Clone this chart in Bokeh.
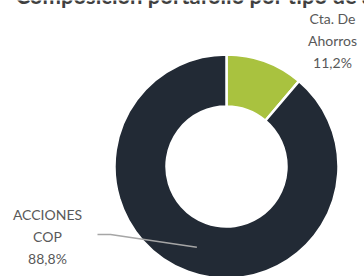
import math
from bokeh.plotting import figure
from bokeh.models import Range1d, ColumnDataSource
from bokeh.core.properties import value
from bokeh.embed import file_html
from bokeh.resources import INLINE

# ---- data ----
title = "Composición portafolio por tipo de activo"
categories = ["Cta. De Ahorros", "ACCIONES COP"]
label_lines = [["Cta. De", "Ahorros"], ["ACCIONES", "COP"]]
shares = [11.2, 88.8]
colors = ["#a9c23f", "#222a35"]

W, H = 364, 276

p = figure(width=W, height=H, output_backend="svg", toolbar_location=None,
           x_range=Range1d(0, W), y_range=Range1d(-H, 0),
           min_border=0)
p.axis.visible = False
p.grid.visible = False
p.outline_line_color = None
p.background_fill_color = "white"
p.border_fill_color = "white"

cx, cy = 226, -166
r_out, r_in = 112, 60

# wedges: first slice starts at 12 o'clock going clockwise
total = sum(shares)
starts, ends = [], []
a = math.pi / 2
for s in shares:
    sweep = 2 * math.pi * s / total
    ends.append(a)
    starts.append(a - sweep)
    a -= sweep

src = ColumnDataSource(dict(start=starts, end=ends, color=colors))
p.annular_wedge(x=cx, y=cy, inner_radius=r_in, outer_radius=r_out,
                inner_radius_units="screen", outer_radius_units="screen",
                start_angle="start", end_angle="end", fill_color="color",
                line_color="white", line_width=2.5, source=src)

def pct(v):
    return f"{v:.1f}".replace(".", ",") + "%"

font = value("Lato")
lc = "#595959"
# label placement (layout): vertical centres of each line
label_pos = [(332, [18, 40, 62]), (47, [214, 236, 258])]
for i in range(len(categories)):
    x, ys = label_pos[i]
    texts = label_lines[i] + [pct(shares[i])]
    p.text(x=[x] * len(texts), y=[-y for y in ys], text=texts,
           text_font=font, text_font_size="14px", text_color=lc,
           text_align="center", text_baseline="middle")

# leader line to the middle of the large slice
mid = (starts[1] + ends[1]) / 2
rm = (r_in + r_out) / 2
ex, ey = cx + rm * math.cos(mid), cy + rm * math.sin(mid)
p.line(x=[97, 110, ex], y=[-234, -234, ey], line_color="#a6a6a6", line_width=1.5)

# title (partly cut off at top as in reference)
p.text(x=[15], y=[-8], text=[title], text_font=font, text_font_style="bold",
       text_font_size="22px", text_color="#404040", text_align="left",
       text_baseline="bottom")

open("out.html", "w").write(file_html(p, INLINE))
